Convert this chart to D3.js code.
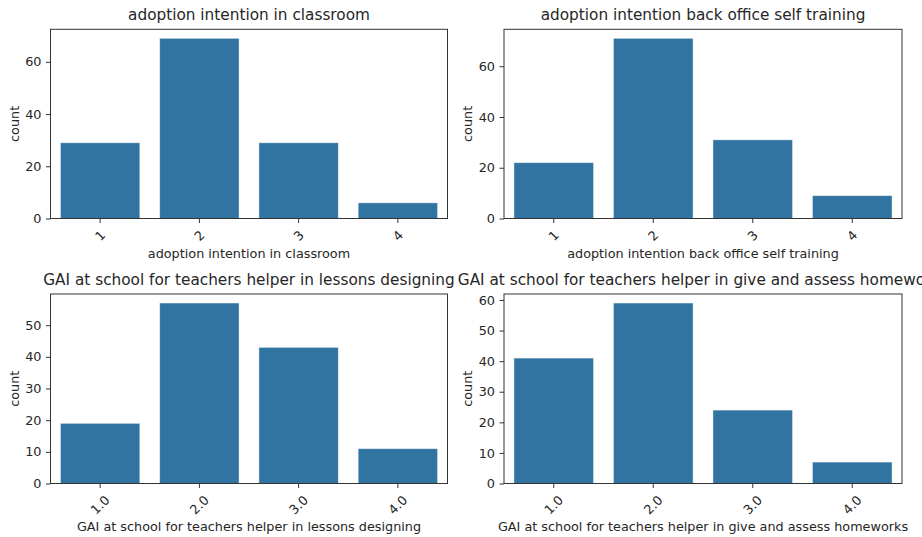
<!DOCTYPE html>
<html>
<head>
<meta charset="utf-8">
<script src="https://cdn.jsdelivr.net/npm/d3@7"></script>
<style>
  body { margin: 0; background: #fff; }
  svg { display: block; font-family: "DejaVu Sans", sans-serif; }
</style>
</head>
<body>
<div id="chart"></div>
<script>
// data
var titles = [
  "adoption intention in classroom",
  "adoption intention back office self training",
  "GAI at school for teachers helper in lessons designing",
  "GAI at school for teachers helper in give and assess homeworks"
];
var catsTop = ["1", "2", "3", "4"];
var catsBottom = ["1.0", "2.0", "3.0", "4.0"];
var classroom = [29, 69, 29, 6];
var backOffice = [22, 71, 31, 9];
var lessons = [19, 57, 43, 11];
var homeworks = [41, 59, 24, 7];
var ticksA = [0, 20, 40, 60];
var ticksB = [0, 10, 20, 30, 40, 50];
var ticksC = [0, 10, 20, 30, 40, 50, 60];

var W = 922, H = 537;
var barColor = "#3274a1", ink = "#262626";
var fs = 12.8, titleFs = 15.3;

var svg = d3.select("#chart").append("svg")
  .attr("width", W).attr("height", H);

// one panel per subplot
var panels = [
  {title: titles[0], cats: catsTop, vals: classroom, ticks: ticksA, x0: 50.5, x1: 447.5, y0: 29.3, y1: 218.5},
  {title: titles[1], cats: catsTop, vals: backOffice, ticks: ticksA, x0: 504, x1: 902, y0: 29.3, y1: 218.5},
  {title: titles[2], cats: catsBottom, vals: lessons, ticks: ticksB, x0: 50.5, x1: 447.5, y0: 294, y1: 483.5},
  {title: titles[3], cats: catsBottom, vals: homeworks, ticks: ticksC, x0: 504, x1: 902, y0: 294, y1: 483.5}
];

// titles drawn last so they overlap like in matplotlib
var titleLayer = [];

panels.forEach(function(p) {
  var x = d3.scaleBand()
    .domain(p.cats)
    .range([p.x0, p.x1])
    .paddingInner(0.2)
    .paddingOuter(0.1);

  var y = d3.scaleLinear()
    .domain([0, d3.max(p.vals) * 1.05])
    .range([p.y1, p.y0]);

  var g = svg.append("g");

  // bars
  g.selectAll("rect")
    .data(p.vals)
    .enter()
    .append("rect")
      .attr("x", function(d, i){ return x(p.cats[i]) })
      .attr("width", x.bandwidth())
      .attr("y", function(d){ return y(d) })
      .attr("height", function(d){ return y(0) - y(d) })
      .attr("fill", barColor)
      .attr("stroke", "#ffffff")
      .attr("stroke-opacity", 0.55)
      .attr("stroke-width", 0.8);

  // y axis
  var ya = g.append("g")
    .attr("transform", "translate(" + p.x0 + ",0)")
    .call(d3.axisLeft(y).tickValues(p.ticks).tickSize(4.5).tickPadding(4.5));
  ya.select(".domain").remove();
  ya.selectAll("line").attr("stroke", "#333");
  ya.selectAll("text").attr("fill", ink).style("font-size", fs + "px")
    .style("font-family", "DejaVu Sans");

  // x axis ticks
  var xa = g.append("g")
    .attr("transform", "translate(0," + p.y1 + ")")
    .call(d3.axisBottom(x).tickSize(4.5).tickFormat(""));
  xa.select(".domain").remove();
  xa.selectAll("line").attr("stroke", "#333");

  // rotated tick labels, bbox centred under each tick
  var maxH = 0;
  p.cats.forEach(function(c) {
    var t = g.append("text")
      .text(c)
      .attr("fill", ink)
      .style("font-size", fs + "px")
      .attr("text-anchor", "middle")
      .attr("dominant-baseline", "central");
    var w = t.node().getComputedTextLength();
    var h = (w + fs * 1.16) * Math.SQRT1_2;
    maxH = Math.max(maxH, h);
    var cx = x(c) + x.bandwidth() / 2, cy = p.y1 + 9 + h / 2;
    t.attr("transform", "translate(" + cx + "," + cy + ") rotate(-45)");
  });

  // frame
  g.append("rect")
    .attr("x", p.x0).attr("y", p.y0)
    .attr("width", p.x1 - p.x0).attr("height", p.y1 - p.y0)
    .attr("fill", "none")
    .attr("stroke", "#333")
    .attr("stroke-width", 1);

  // axis labels
  g.append("text")
    .text(p.title)
    .attr("x", (p.x0 + p.x1) / 2)
    .attr("y", p.y1 + maxH + 18.5)
    .attr("text-anchor", "middle")
    .attr("dominant-baseline", "central")
    .attr("fill", ink)
    .style("font-size", fs + "px");

  g.append("text")
    .text("count")
    .attr("transform", "translate(" + (p.x0 - 36.5) + "," + ((p.y0 + p.y1) / 2) + ") rotate(-90)")
    .attr("text-anchor", "middle")
    .attr("dominant-baseline", "central")
    .attr("fill", ink)
    .style("font-size", fs + "px");

  titleLayer.push({text: p.title, x: (p.x0 + p.x1) / 2, y: p.y0 - 14.3});
});

svg.append("g").selectAll("text")
  .data(titleLayer)
  .enter()
  .append("text")
    .text(function(d){ return d.text })
    .attr("x", function(d){ return d.x })
    .attr("y", function(d){ return d.y })
    .attr("text-anchor", "middle")
    .attr("dominant-baseline", "central")
    .attr("fill", ink)
    .style("font-size", titleFs + "px");
</script>
</body>
</html>
